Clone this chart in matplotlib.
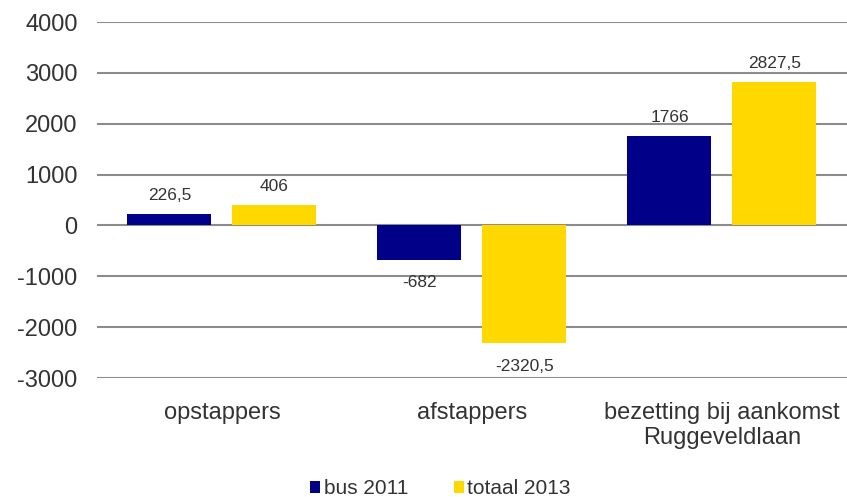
import matplotlib
matplotlib.use("Agg")
import matplotlib.pyplot as plt
import numpy as np

# Data
categories = ["opstappers", "afstappers", "bezetting bij aankomst\nRuggeveldlaan"]
bus2011 = [226.5, -682, 1766]
totaal2013 = [406, -2320.5, 2827.5]
series_names = ["bus 2011", "totaal 2013"]
yticks = [-3000, -2000, -1000, 0, 1000, 2000, 3000, 4000]

navy = "#000088"
yellow = "#FFD800"
textcol = "#333333"

plt.rcParams["font.family"] = ["Liberation Sans", "DejaVu Sans"]

fig = plt.figure(figsize=(8.47, 4.97), dpi=100)
ax = fig.add_axes([0.1145, 0.2394, 0.8855, 0.7163])

x = np.arange(len(categories))
w = 0.336
off = 0.21

bars1 = ax.bar(x - off, bus2011, w, color=navy, label=series_names[0], zorder=3)
bars2 = ax.bar(x + off, totaal2013, w, color=yellow, label=series_names[1], zorder=3)


def fmt(v):
  s = ("%g" % v).replace(".", ",")
  return s


# Value labels
for bars, vals in [(bars1, bus2011), (bars2, totaal2013)]:
  for b, v in zip(bars, vals):
    cx = b.get_x() + b.get_width()/2
    if v >= 0:
      ax.annotate(fmt(v), (cx, v), xytext=(0, 8), textcoords="offset points",
                  ha="center", va="bottom", fontsize=12.5, color=textcol)
    else:
      ax.annotate(fmt(v), (cx, v), xytext=(0, -11), textcoords="offset points",
                  ha="center", va="top", fontsize=12.5, color=textcol)

ax.set_xlim(-0.5, 2.5)
ax.set_ylim(-3000, 4000)
ax.set_yticks(yticks)
ax.set_yticklabels([str(t) for t in yticks], fontsize=17, color=textcol)
ax.set_xticks(x)
ax.set_xticklabels(categories, fontsize=17, color=textcol, linespacing=1.2)
ax.tick_params(axis="both", length=0)
ax.tick_params(axis="y", pad=14)
ax.tick_params(axis="x", pad=17)
ax.yaxis.grid(True, color="#8c8c8c", linewidth=1.5, zorder=0)
for s in ax.spines.values():
  s.set_visible(False)

leg = fig.legend(handles=[bars1, bars2], labels=series_names, loc="lower center",
                 bbox_to_anchor=(0.52, -0.04), ncol=2, frameon=False, fontsize=15,
                 handlelength=0.5, handleheight=0.5, handletextpad=0.15, columnspacing=2.2)
for t in leg.get_texts():
  t.set_color(textcol)

fig.savefig("out.png", dpi=100)
